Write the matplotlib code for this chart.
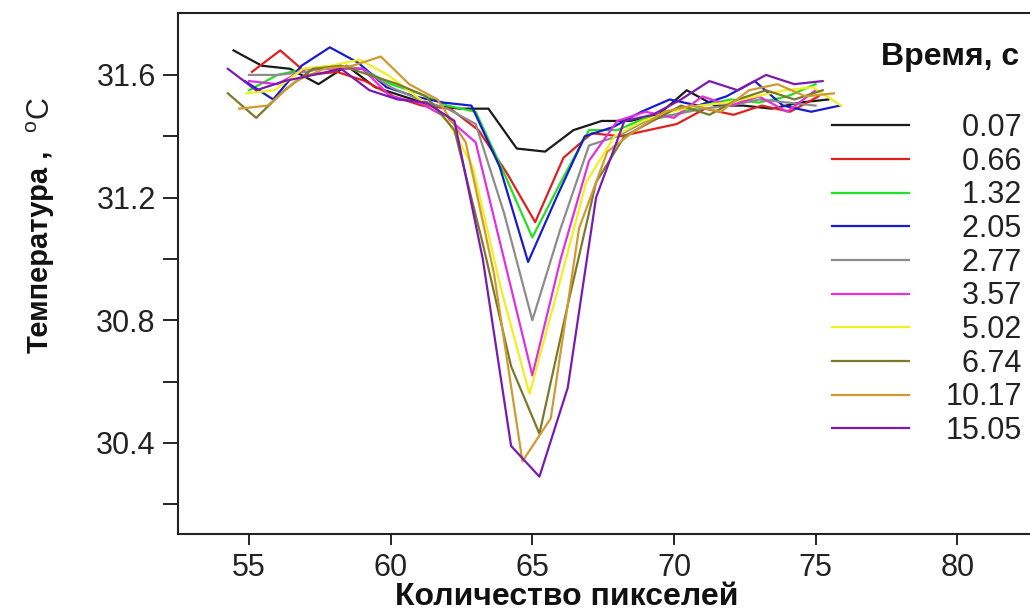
import numpy as np
import matplotlib
matplotlib.use('Agg')
import matplotlib.pyplot as plt

plt.rcParams['font.family'] = ['Liberation Sans', 'DejaVu Sans']

# время, с (legend) and colours of the curves
times = ['0.07', '0.66', '1.32', '2.05', '2.77', '3.57', '5.02', '6.74', '10.17', '15.05']
colors = ['#1a1a1a', '#e0201e', '#22e022', '#1a1ad0', '#8c8c8c',
          '#e030e0', '#f0f020', '#7a7a2a', '#d09a30', '#7a1ab0']

# pixel positions of every profile (each curve is sampled on its own grid)
x_007 = [54.45, 55.45, 56.45, 57.45, 58.45, 59.45, 60.45, 61.45, 62.45, 63.45, 64.45,
         65.45, 66.45, 67.45, 68.45, 69.45, 70.45, 71.45, 72.45, 73.45, 74.45, 75.45]
x_066 = [55.1, 56.1, 57.1, 58.1, 59.1, 60.1, 61.1, 62.1, 63.1, 64.1, 65.1,
         66.1, 67.1, 68.1, 69.1, 70.1, 71.1, 72.1, 73.1, 74.1, 75.1]
x_132 = [55, 56, 57, 58, 59, 60, 61, 62, 63, 64, 65,
         66, 67, 68, 69, 70, 71, 72, 73, 74, 75]
x_205 = [54.85, 55.85, 56.85, 57.85, 58.85, 59.85, 60.85, 61.85, 62.85, 63.85, 64.85,
         65.85, 66.85, 67.85, 68.85, 69.85, 70.85, 71.85, 72.85, 73.85, 74.85, 75.85]
x_277 = [55, 56, 57, 58, 59, 60, 61, 62, 63, 64, 65,
         66, 67, 68, 69, 70, 71, 72, 73, 74, 75]
x_357 = [55, 56, 57, 58, 59, 60, 61, 62, 63, 64, 65,
         66, 67, 68, 69, 70, 71, 72, 73, 74, 75]
x_502 = [54.9, 55.9, 56.9, 57.9, 58.9, 59.9, 60.9, 61.9, 62.9, 63.9, 64.9,
         65.9, 66.9, 67.9, 68.9, 69.9, 70.9, 71.9, 72.9, 73.9, 74.9, 75.9]
x_674 = [54.25, 55.25, 56.25, 57.25, 58.25, 59.25, 60.25, 61.25, 62.25, 63.25, 64.25,
         65.25, 66.25, 67.25, 68.25, 69.25, 70.25, 71.25, 72.25, 73.25, 74.25, 75.25]
x_1017 = [54.65, 55.65, 56.65, 57.65, 58.65, 59.65, 60.65, 61.65, 62.65, 63.65, 64.65,
          65.65, 66.65, 67.65, 68.65, 69.65, 70.65, 71.65, 72.65, 73.65, 74.65, 75.65]
x_1505 = [54.25, 55.25, 56.25, 57.25, 58.25, 59.25, 60.25, 61.25, 62.25, 63.25, 64.25,
          65.25, 66.25, 67.25, 68.25, 69.25, 70.25, 71.25, 72.25, 73.25, 74.25, 75.25]

# temperatures, oC
t_007 = [31.68, 31.63, 31.62, 31.57, 31.63, 31.56, 31.53, 31.50, 31.49, 31.49, 31.36,
         31.35, 31.42, 31.45, 31.45, 31.47, 31.55, 31.50, 31.50, 31.49, 31.51, 31.52]
t_066 = [31.61, 31.68, 31.60, 31.61, 31.58, 31.53, 31.50, 31.49, 31.42, 31.28, 31.12,
         31.33, 31.41, 31.40, 31.42, 31.44, 31.49, 31.47, 31.50, 31.48, 31.53]
t_132 = [31.55, 31.60, 31.62, 31.63, 31.62, 31.57, 31.54, 31.50, 31.48, 31.28, 31.07,
         31.25, 31.42, 31.42, 31.46, 31.47, 31.50, 31.52, 31.51, 31.53, 31.57]
t_205 = [31.58, 31.52, 31.63, 31.69, 31.64, 31.56, 31.53, 31.51, 31.50, 31.30, 30.99,
         31.20, 31.40, 31.43, 31.48, 31.52, 31.50, 31.53, 31.58, 31.50, 31.48, 31.50]
t_277 = [31.60, 31.60, 31.61, 31.63, 31.62, 31.56, 31.52, 31.49, 31.44, 31.15, 30.80,
         31.10, 31.37, 31.40, 31.45, 31.47, 31.49, 31.50, 31.52, 31.51, 31.50]
t_357 = [31.58, 31.57, 31.62, 31.62, 31.62, 31.53, 31.51, 31.46, 31.38, 31.00, 30.62,
         31.00, 31.32, 31.45, 31.48, 31.46, 31.53, 31.50, 31.53, 31.48, 31.55]
t_502 = [31.54, 31.55, 31.62, 31.63, 31.65, 31.60, 31.53, 31.47, 31.30, 30.90, 30.56,
         30.90, 31.25, 31.40, 31.45, 31.48, 31.50, 31.51, 31.53, 31.55, 31.56, 31.50]
t_674 = [31.54, 31.46, 31.55, 31.62, 31.63, 31.60, 31.57, 31.53, 31.42, 31.05, 30.65,
         30.43, 30.85, 31.25, 31.40, 31.45, 31.50, 31.47, 31.52, 31.55, 31.52, 31.55]
t_1017 = [31.49, 31.50, 31.58, 31.62, 31.63, 31.66, 31.57, 31.52, 31.38, 30.95, 30.34,
          30.48, 31.10, 31.35, 31.42, 31.48, 31.50, 31.48, 31.55, 31.57, 31.53, 31.54]
t_1505 = [31.62, 31.55, 31.58, 31.60, 31.62, 31.55, 31.52, 31.51, 31.45, 31.00, 30.39,
          30.29, 30.58, 31.20, 31.45, 31.47, 31.52, 31.58, 31.55, 31.60, 31.57, 31.58]

xs = [x_007, x_066, x_132, x_205, x_277, x_357, x_502, x_674, x_1017, x_1505]
ts = [t_007, t_066, t_132, t_205, t_277, t_357, t_502, t_674, t_1017, t_1505]

W, H = 1030, 611
fig = plt.figure(figsize=(W / 100, H / 100), dpi=100)
ax = fig.add_axes([178 / W, (H - 534) / H, 1 - 178 / W, (534 - 13) / H])

lines = []
for x, t, c in zip(xs, ts, colors):
    ln, = ax.plot(x, t, color=c, lw=1.6)
    lines.append(ln)

ax.set_xlim(52.49, 82.57)
ax.set_ylim(30.103, 31.802)
ax.set_xticks([55, 60, 65, 70, 75, 80])
ax.set_yticks([31.6, 31.2, 30.8, 30.4])
ax.set_yticks([31.4, 31.0, 30.6, 30.2], minor=True)
ax.tick_params(axis='x', direction='out', length=8, width=1.2, labelsize=22, pad=6)
ax.tick_params(axis='y', which='both', direction='out', length=11, width=1.2,
               labelsize=22, pad=5, labelcolor='#222222')
ax.tick_params(axis='y', which='minor', labelleft=False)
ax.tick_params(axis='x', labelcolor='#222222')
ax.spines['right'].set_visible(False)
for s in ['left', 'top', 'bottom']:
    ax.spines[s].set_linewidth(1.5)
    ax.spines[s].set_color('#222222')

# legend, labels right aligned by figure spaces
width = max(len(s) for s in times)
labels = [s.rjust(width, '\u2007') for s in times]
leg = fig.legend(lines, labels, loc='upper right', bbox_to_anchor=(1022 / W, 1 - 113 / H),
                 frameon=False, fontsize=22, handlelength=2.5, handletextpad=1.2,
                 labelspacing=0.12, borderaxespad=0, borderpad=0)
for t in leg.get_texts():
    t.set_color('#222222')
fig.text(1019 / W, 1 - 57 / H, 'Время, с', ha='right', va='center',
         fontsize=23, fontweight='bold', color='#111111')

fig.text(567 / W, 1 - 597 / H, 'Количество пикселей', ha='center', va='center',
         fontsize=23, fontweight='bold', color='#111111')
fig.text(40 / W, 1 - 252 / H, 'Температура ,', rotation=90, ha='center', va='center',
         fontsize=21, fontweight='bold', color='#111111')
fig.text(42 / W, 1 - 115 / H, r'$^{\mathregular{o}}$C', rotation=90, ha='center',
         va='center', fontsize=22, color='#222222')

fig.savefig('out.png', dpi=100)
